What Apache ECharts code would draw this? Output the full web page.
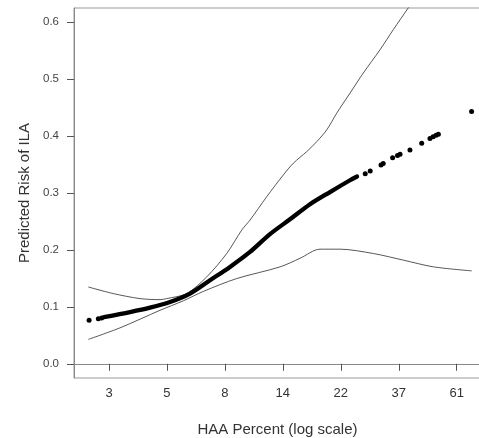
<!DOCTYPE html>
<html>
<head>
<meta charset="utf-8">
<script src="https://cdn.jsdelivr.net/npm/echarts@6/dist/echarts.min.js"></script>
<style>
html,body{margin:0;padding:0;background:#fff;}
#chart{width:479px;height:438px;}
</style>
</head>
<body>
<div id="chart"></div>
<script>
// Tick positions (HAA %) on the log axis and their printed labels
const xTickValues = [3.004, 4.953, 8.166, 13.46, 22.20, 36.60, 60.34];
const xTickLabels = ['3', '5', '8', '14', '22', '37', '61'];
const yTickValues = [0, 0.1, 0.2, 0.3, 0.4, 0.5, 0.6];

// Dense predicted-risk band
const haaMid = [2.877, 3.601, 4.279, 5.085, 6.043, 7.181, 8.533, 10.14, 12.05, 14.32, 17.02, 20.22, 24.03, 25.53];
const riskMid = [0.0821, 0.0909, 0.0986, 0.1085, 0.1233, 0.1467, 0.1702, 0.1965, 0.2278, 0.2538, 0.2803, 0.3017, 0.3224, 0.3290];

// Isolated predicted-risk dots
const haaDots = [2.53, 2.74, 2.82, 27.4, 28.6, 31.4, 32.0, 34.7, 36.2, 37.0, 40.3, 44.6, 47.9, 49.2, 50.5, 51.5, 68.6];
const riskDots = [0.0763, 0.0793, 0.0803, 0.334, 0.3387, 0.349, 0.352, 0.362, 0.3657, 0.368, 0.3757, 0.3875, 0.3956, 0.3986, 0.4013, 0.4034, 0.4432];

// Upper confidence bound
const haaUpper = [2.513, 3.118, 3.926, 4.665, 4.942, 5.873, 6.980, 8.294, 9.440, 10.14, 11.71, 13.52, 14.74, 16.54, 18.03, 19.66, 21.43, 24.03, 26.95, 31.13, 34.92, 39.75, 43.97];
const riskUpper = [0.1349, 0.1233, 0.1145, 0.1127, 0.1145, 0.1233, 0.1526, 0.1937, 0.2348, 0.2524, 0.2934, 0.3318, 0.3524, 0.3727, 0.3902, 0.4109, 0.4403, 0.4755, 0.5108, 0.5516, 0.5871, 0.6253, 0.655];

// Lower confidence bound
const haaLower = [2.513, 3.303, 4.665, 5.704, 6.777, 9.041, 13.14, 15.61, 18.55, 22.05, 29.38, 38.07, 49.29, 68.68];
const riskLower = [0.0428, 0.0631, 0.0939, 0.1106, 0.1271, 0.1497, 0.1702, 0.1853, 0.2013, 0.2013, 0.1937, 0.1821, 0.1703, 0.1632];

const zip = (a, b) => a.map((v, i) => [v, b[i]]);

const chart = echarts.init(document.getElementById('chart'), null, {renderer: 'canvas'});
const font = 'Liberation Sans, Arial, sans-serif';
chart.setOption({
  animation: false,
  backgroundColor: '#ffffff',
  grid: {
    left: 74, top: 8, right: -2, bottom: 60,
    containLabel: false, outerBoundsMode: 'none',
    show: true, borderColor: '#999', borderWidth: 1, backgroundColor: 'transparent'
  },
  xAxis: {
    type: 'log',
    logBase: Math.E,
    min: 2.221,
    max: 74.4,
    name: 'HAA Percent (log scale)',
    nameLocation: 'middle',
    nameGap: 44,
    nameTextStyle: {fontSize: 15, color: '#333', fontFamily: font},
    axisLine: {show: true, lineStyle: {color: '#888', width: 1}},
    axisTick: {show: true, length: 7, inside: false, customValues: xTickValues, lineStyle: {color: '#555'}},
    axisLabel: {
      customValues: xTickValues,
      fontSize: 13, color: '#333', fontFamily: font, margin: 9,
      formatter: function (v) {
        let best = 0;
        for (let i = 0; i < xTickValues.length; i++) {
          if (Math.abs(xTickValues[i] - v) < Math.abs(xTickValues[best] - v)) best = i;
        }
        return xTickLabels[best];
      }
    },
    splitLine: {show: false}
  },
  yAxis: {
    type: 'value',
    min: -0.025,
    max: 0.625,
    name: 'Predicted Risk of ILA',
    nameLocation: 'middle',
    nameGap: 42,
    nameTextStyle: {fontSize: 15, color: '#333', fontFamily: font},
    axisLine: {show: true, lineStyle: {color: '#888', width: 1}},
    axisTick: {show: true, length: 7, inside: false, customValues: yTickValues, lineStyle: {color: '#555'}},
    axisLabel: {
      customValues: yTickValues,
      fontSize: 11.5, color: '#444', fontFamily: font, margin: 15,
      formatter: v => v.toFixed(1)
    },
    splitLine: {show: false}
  },
  series: [
    {
      type: 'line', data: zip(haaUpper, riskUpper), smooth: 0.3, showSymbol: false,
      lineStyle: {color: '#444', width: 0.9}, clip: true
    },
    {
      type: 'line', data: zip(haaLower, riskLower), smooth: 0.3, showSymbol: false,
      lineStyle: {color: '#444', width: 0.9}, clip: true
    },
    {
      type: 'line', data: zip(haaMid, riskMid), smooth: 0.3, showSymbol: false,
      lineStyle: {color: '#000', width: 4.3, cap: 'round'}, clip: true
    },
    {
      type: 'scatter', data: zip(haaDots, riskDots), symbol: 'circle', symbolSize: 5,
      itemStyle: {color: '#000', opacity: 1}, clip: true
    }
  ]
});
</script>
</body>
</html>
